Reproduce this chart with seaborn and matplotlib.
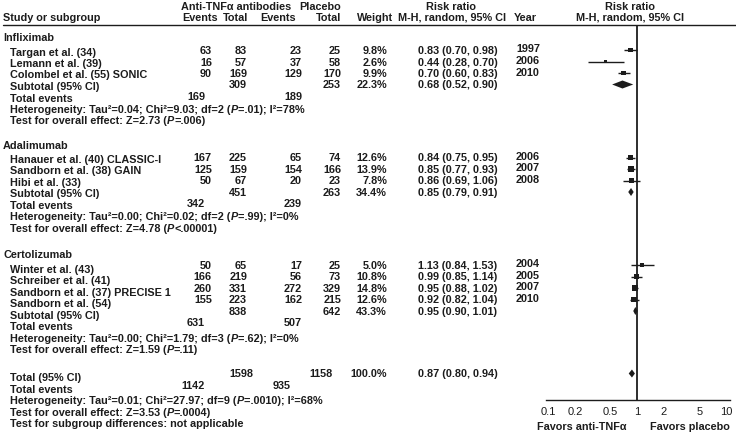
import numpy as np
import pandas as pd
import matplotlib
matplotlib.use("Agg")
import matplotlib.pyplot as plt
from matplotlib.ticker import NullLocator
import seaborn as sns

# -----------------------------------------
# 1. DATA
# -----------------------------------------

groups = ["Infliximab", "Adalimumab", "Certolizumab"]

studies = ["Targan et al. (34)", "Lemann et al. (39)", "Colombel et al. (55) SONIC",
           "Hanauer et al. (40) CLASSIC-I", "Sandborn et al. (38) GAIN", "Hibi et al. (33)",
           "Winter et al. (43)", "Schreiber et al. (41)", "Sandborn et al. (37) PRECISE 1",
           "Sandborn et al. (54)"]
study_group = [0, 0, 0, 1, 1, 1, 2, 2, 2, 2]
anti_events = [63, 16, 90, 167, 125, 50, 50, 166, 260, 155]
anti_total = [83, 57, 169, 225, 159, 67, 65, 219, 331, 223]
pla_events = [23, 37, 129, 65, 154, 20, 17, 56, 272, 162]
pla_total = [25, 58, 170, 74, 166, 23, 25, 73, 329, 215]
weights = [9.8, 2.6, 9.9, 12.6, 13.9, 7.8, 5.0, 10.8, 14.8, 12.6]
rr = [0.83, 0.44, 0.70, 0.84, 0.85, 0.86, 1.13, 0.99, 0.95, 0.92]
rr_lo = [0.70, 0.28, 0.60, 0.75, 0.77, 0.69, 0.84, 0.85, 0.88, 0.82]
rr_hi = [0.98, 0.70, 0.83, 0.95, 0.93, 1.06, 1.53, 1.14, 1.02, 1.04]
years = [1997, 2006, 2010, 2006, 2007, 2008, 2004, 2005, 2007, 2010]

sub_anti_total = [309, 451, 838]
sub_pla_total = [253, 263, 642]
sub_weight = [22.3, 34.4, 43.3]
sub_rr = [0.68, 0.85, 0.95]
sub_lo = [0.52, 0.79, 0.90]
sub_hi = [0.90, 0.91, 1.01]
sub_anti_events = [169, 342, 631]
sub_pla_events = [189, 239, 507]
sub_het = ["Tau²=0.04; Chi²=9.03; df=2 (P=.01); I²=78%",
           "Tau²=0.00; Chi²=0.02; df=2 (P=.99); I²=0%",
           "Tau²=0.00; Chi²=1.79; df=3 (P=.62); I²=0%"]
sub_effect = ["Z=2.73 (P=.006)", "Z=4.78 (P<.00001)", "Z=1.59 (P=.11)"]

tot_anti_total, tot_pla_total = 1598, 1158
tot_weight = 100.0
tot_rr, tot_lo, tot_hi = 0.87, 0.80, 0.94
tot_anti_events, tot_pla_events = 1142, 935
tot_het = "Tau²=0.01; Chi²=27.97; df=9 (P=.0010); I²=68%"
tot_effect = "Z=3.53 (P=.0004)"
subgroup_diff = "not applicable"

rr_ticks = [0.1, 0.2, 0.5, 1, 2, 5, 10]
rr_tick_labels = ["0.1", "0.2", "0.5", "1", "2", "5", "10"]

# -----------------------------------------
# 2. STYLE
# -----------------------------------------

sns.set_style("white")
plt.rcParams["font.family"] = ["Liberation Sans", "DejaVu Sans"]

ink = "#1c1c1c"
fs = 7.8

W, H = 736, 435
fig = plt.figure(figsize=(W / 100, H / 100), dpi=100)
fig.patch.set_facecolor("white")
renderer = fig.canvas.get_renderer()

# text layer in pixel coordinates
tx = fig.add_axes([0, 0, 1, 1])
tx.set_xlim(0, W)
tx.set_ylim(H, 0)
tx.axis("off")


def put(x, y, s, ha="left", style="normal", size=fs):
    return tx.text(x, y, s, ha=ha, va="center", fontsize=size, fontweight="bold",
                   fontstyle=style, color=ink)


def put_stat(x, y, label, s):
    # the "P" of each p-value is set in italics, as in the source
    pre, post = s.split("(P")
    for part, style in [(label + pre + "(", "normal"), ("P", "italic"), (post, "normal")]:
        t = put(x, y, part, style=style)
        x += t.get_window_extent(renderer=renderer).width


# column anchors (px)
X_GROUP, X_STUDY = 3, 10
X_AE, X_AT, X_PE, X_PT, X_W = 212, 247, 302, 341, 387
X_RR, X_YEAR = 418, 516
X_TE_A, X_TE_P = 205, 302

# -----------------------------------------
# 3. HEADER
# -----------------------------------------

put(236, 7, "Anti-TNFα antibodies", ha="center")
put(320, 7, "Placebo", ha="center")
put(451, 7, "Risk ratio", ha="center")
put(630, 7, "Risk ratio", ha="center")
put(X_GROUP, 18, "Study or subgroup")
put(200, 18, "Events", ha="center")
put(X_AT + 1, 18, "Total", ha="right")
put(278, 18, "Events", ha="center")
put(X_PT, 18, "Total", ha="right")
put(375, 18, "Weight", ha="center")
put(452, 18, "M-H, random, 95% CI", ha="center")
put(514, 18, "Year")
put(630, 18, "M-H, random, 95% CI", ha="center")
tx.plot([3, W], [25.7, 25.7], color=ink, lw=1.0)

# -----------------------------------------
# 4. TABLE ROWS
# -----------------------------------------

step = 11.5
study_y = [0.0] * len(studies)
sub_y = []
y = 37.5
for g, gname in enumerate(groups):
    off = 4 if g == 2 else 1.5
    put(X_GROUP, y + off * 0.5, gname)
    y += 13.5
    for i in [k for k, sg in enumerate(study_group) if sg == g]:
        study_y[i] = y
        put(X_STUDY, y + off, studies[i])
        put(X_AE, y, str(anti_events[i]), ha="right")
        put(X_AT, y, str(anti_total[i]), ha="right")
        put(X_PE, y, str(pla_events[i]), ha="right")
        put(X_PT, y, str(pla_total[i]), ha="right")
        put(X_W, y, f"{weights[i]:.1f}%", ha="right")
        put(X_RR, y, f"{rr[i]:.2f} ({rr_lo[i]:.2f}, {rr_hi[i]:.2f})")
        put(X_YEAR, y - 1.5, str(years[i]))
        y += step
    sub_y.append(y)
    put(X_STUDY, y + off, "Subtotal (95% CI)")
    put(X_AT, y, str(sub_anti_total[g]), ha="right")
    put(X_PT, y, str(sub_pla_total[g]), ha="right")
    put(X_W, y, f"{sub_weight[g]:.1f}%", ha="right")
    put(X_RR, y, f"{sub_rr[g]:.2f} ({sub_lo[g]:.2f}, {sub_hi[g]:.2f})")
    y += step
    put(X_STUDY, y + off, "Total events")
    put(X_TE_A, y, str(sub_anti_events[g]), ha="right")
    put(X_TE_P, y, str(sub_pla_events[g]), ha="right")
    y += step
    put_stat(X_STUDY, y + off, "Heterogeneity: ", sub_het[g])
    y += step
    put_stat(X_STUDY, y + off, "Test for overall effect: ", sub_effect[g])
    y += 25 if g < 2 else 28

# overall
tot_y = y
put(X_STUDY, y + 4, "Total (95% CI)")
put(253, y, str(tot_anti_total), ha="right")
put(333, y, str(tot_pla_total), ha="right")
put(X_W, y, f"{tot_weight:.1f}%", ha="right")
put(X_RR, y, f"{tot_rr:.2f} ({tot_lo:.2f}, {tot_hi:.2f})")
y += step
put(X_STUDY, y + 4, "Total events")
put(X_TE_A, y, str(tot_anti_events), ha="right")
put(291, y, str(tot_pla_events), ha="right")
y += step
put_stat(X_STUDY, y + 4, "Heterogeneity: ", tot_het)
y += step
put_stat(X_STUDY, y + 4, "Test for overall effect: ", tot_effect)
y += step
put(X_STUDY, y + 4, "Test for subgroup differences: " + subgroup_diff)

# -----------------------------------------
# 5. FOREST PANEL
# -----------------------------------------

ax_l, ax_r, ax_top, ax_bot = 546, 730, 26, 401
ax = fig.add_axes([ax_l / W, (H - ax_bot) / H, (ax_r - ax_l) / W, (ax_bot - ax_top) / H])
ax.set_facecolor("none")
ax.set_xscale("log")

df = pd.DataFrame({"rr": rr, "y": study_y, "w": weights})
ax.hlines(df["y"], rr_lo, rr_hi, color=ink, lw=1.0, zorder=2)
sns.scatterplot(data=df, x="rr", y="y", size="w",
                sizes=(min(weights) * 1.2, max(weights) * 1.2),
                marker="s", color=ink, linewidth=0, legend=False, ax=ax, zorder=3)

half = 4.0
for m, lo, hi, yy in zip(sub_rr + [tot_rr], sub_lo + [tot_lo], sub_hi + [tot_hi], sub_y + [tot_y]):
    ax.fill([lo, m, hi, m], [yy, yy - half, yy, yy + half], color=ink, lw=0, zorder=3)

ax.axvline(1, color=ink, lw=1.3, zorder=1)

dec = 88.6
x_one = 637.3
ax.set_xlim(10 ** ((ax_l - x_one) / dec), 10 ** ((ax_r - x_one) / dec))
ax.set_ylim(ax_bot, ax_top)

for s in ["top", "right", "left"]:
    ax.spines[s].set_visible(False)
ax.spines["bottom"].set_color(ink)
ax.spines["bottom"].set_linewidth(1.0)
ax.set_xticks(rr_ticks)
ax.set_xticklabels(rr_tick_labels)
ax.xaxis.set_minor_locator(NullLocator())
ax.set_yticks([])
ax.tick_params(axis="x", length=3, width=0.9, color=ink, labelcolor=ink,
               labelsize=8.0, pad=1.5)
ax.set_xlabel("")
ax.set_ylabel("")

put(582, 427, "Favors anti-TNFα", ha="center")
put(690, 427, "Favors placebo", ha="center")

fig.savefig("out.png", dpi=100)
